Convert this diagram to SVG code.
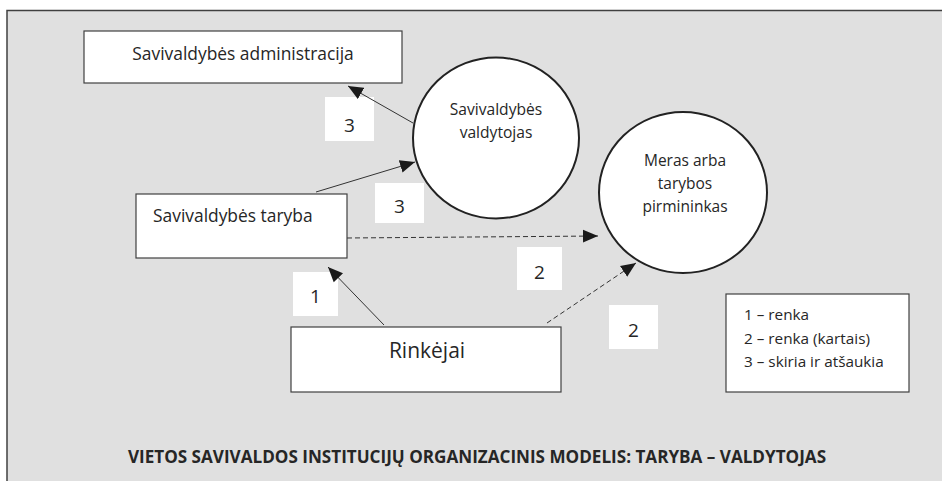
<svg xmlns="http://www.w3.org/2000/svg" width="942" height="481" viewBox="0 0 942 481">
<style>
text{font-family:"Open Sans","Noto Sans","Liberation Sans",sans-serif;fill:#262626}
.box{fill:#ffffff;stroke:#404040;stroke-width:1.2}
.circ{fill:#ffffff;stroke:#222222;stroke-width:2}
.lbl{fill:#ffffff;stroke:none}
.num{font-size:19px;text-anchor:middle}
.ln{stroke:#333333;stroke-width:1;fill:none}
.dash{stroke-dasharray:5 3}
</style>
<defs>
<marker id="ah" markerUnits="userSpaceOnUse" markerWidth="16" markerHeight="14" viewBox="0 0 16 14" refX="15" refY="7" orient="auto">
<path d="M0,0.5 L15,7 L0,13.5 z" fill="#1a1a1a" stroke="none"/>
</marker>
</defs>
<rect x="0" y="0" width="942" height="481" fill="#ffffff"/>
<rect id="frame" x="7" y="10.5" width="945" height="485" fill="#e0e0e0" stroke="#404040" stroke-width="1.5"/>

<g id="labels">
<rect class="lbl" x="325" y="97" width="49" height="44"/>
<text class="num" x="349.5" y="132">3</text>
<rect class="lbl" x="375" y="183" width="49" height="40"/>
<text class="num" x="399.5" y="213">3</text>
<rect class="lbl" x="293" y="272" width="45" height="44"/>
<text class="num" x="315.5" y="303">1</text>
<rect class="lbl" x="517" y="247" width="45" height="43"/>
<text class="num" x="539.5" y="279">2</text>
<rect class="lbl" x="609" y="305" width="49" height="44"/>
<text class="num" x="633.5" y="337">2</text>
</g>

<g id="connectors">
<line class="ln" x1="413" y1="123" x2="348" y2="86" marker-end="url(#ah)"/>
<line class="ln" x1="316" y1="192" x2="415" y2="162" marker-end="url(#ah)"/>
<line class="ln dash" x1="347" y1="238" x2="598" y2="236" marker-end="url(#ah)"/>
<line class="ln" x1="384" y1="325" x2="328" y2="267" marker-end="url(#ah)"/>
<line class="ln dash" x1="547" y1="323" x2="636" y2="263" marker-end="url(#ah)"/>
</g>

<g id="admin">
<rect class="box" x="84" y="31" width="318" height="52"/>
<text x="243" y="59.5" font-size="17.4" text-anchor="middle">Savivaldybės administracija</text>
</g>

<g id="valdytojas">
<ellipse class="circ" cx="496" cy="138" rx="83" ry="80.5"/>
<text x="496" y="115" font-size="15.6" text-anchor="middle">Savivaldybės</text>
<text x="496" y="138" font-size="15.6" text-anchor="middle">valdytojas</text>
</g>

<g id="meras">
<ellipse class="circ" cx="683" cy="192.5" rx="84" ry="80.5"/>
<text x="685" y="166" font-size="15.5" text-anchor="middle">Meras arba</text>
<text x="685" y="189" font-size="15.5" text-anchor="middle">tarybos</text>
<text x="685" y="212" font-size="15.5" text-anchor="middle">pirmininkas</text>
</g>

<g id="taryba">
<rect class="box" x="136" y="194" width="211" height="64"/>
<text x="153" y="222" font-size="17.4">Savivaldybės taryba</text>
</g>

<g id="rinkejai">
<rect class="box" x="291" y="327" width="270" height="65"/>
<text x="427" y="358" font-size="21" text-anchor="middle">Rinkėjai</text>
</g>

<g id="legend">
<rect class="box" x="726" y="294" width="183" height="98"/>
<text x="744" y="320" font-size="15.3">1 – renka</text>
<text x="744" y="344" font-size="15.3">2 – renka (kartais)</text>
<text x="744" y="367" font-size="15.3">3 – skiria ir atšaukia</text>
</g>

<g id="title">
<text x="477" y="463" font-size="17.1" font-weight="bold" text-anchor="middle">VIETOS SAVIVALDOS INSTITUCIJŲ ORGANIZACINIS MODELIS: TARYBA – VALDYTOJAS</text>
</g>
</svg>
